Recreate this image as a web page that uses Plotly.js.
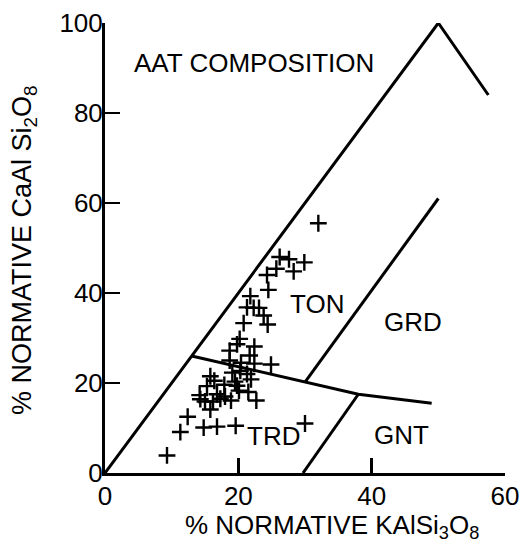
<!DOCTYPE html>
<html>
<head>
<meta charset="utf-8">
<script src="https://cdn.plot.ly/plotly-3.0.1.min.js"></script>
<style>html,body{margin:0;padding:0;background:#fff;}</style>
</head>
<body>
<div id="chart" style="width:523px;height:553px;"></div>
<script>
// Sample points: normative Or (KAlSi3O8) % vs normative An (CaAl2Si2O8) %
const orValues = [
  9.3, 11.3, 12.4, 14.8, 16.8, 19.6, 30.0, 15.8,
  14.3, 15.0, 16.2, 17.3, 18.9, 22.7, 14.2, 16.8, 18.0, 20.1, 21.5,
  15.3, 15.8, 16.4, 17.9, 19.8, 19.5, 21.9, 19.1, 20.3, 21.3,
  18.7, 20.4, 22.4, 24.9, 21.7, 18.7, 19.8, 22.4, 20.2,
  20.8, 24.4, 23.8, 21.3, 22.3, 23.1, 21.8, 24.5, 24.3, 25.7, 28.3, 26.2, 27.6, 29.9, 32.0
];
const anValues = [
  3.9, 9.1, 12.5, 10.1, 10.3, 10.5, 11.0, 14.1,
  16.4, 15.9, 15.9, 16.5, 16.1, 16.1, 17.3, 17.5, 17.0, 18.3, 18.0,
  19.3, 21.5, 20.5, 19.6, 19.4, 20.3, 20.8, 22.3, 22.7, 22.0,
  25.0, 24.5, 24.3, 24.1, 26.1, 27.2, 28.6, 28.1, 29.8,
  33.3, 33.0, 35.0, 36.8, 36.7, 36.7, 39.3, 40.7, 44.0, 45.4, 44.8, 48.0, 47.5, 46.8, 55.5
];

// Field boundaries
const aatX = [0, 50, 57.5];
const aatY = [0, 100, 84];
const tonTrdX = [13, 38, 49];
const tonTrdY = [26, 17.5, 15.5];
const grdTonX = [30, 50];
const grdTonY = [20.2, 61];
const gntTrdX = [29.7, 38];
const gntTrdY = [0, 17.5];

// Labels
const fieldNames = ["AAT COMPOSITION", "TON", "GRD", "TRD", "GNT"];
const fieldX = [4.05, 31.8, 46.2, 25.2, 44.5];
const fieldY = [91.1, 37.5, 33.6, 8.2, 8.55];
const fieldAnchor = ["left", "center", "center", "center", "center"];

const xTickVals = [0, 20, 40, 60];
const yTickVals = [0, 20, 40, 60, 80, 100];
const xTitle = "% NORMATIVE KAlSi<sub>3</sub>O<sub>8</sub>";
const yTitle = "% NORMATIVE CaAl Si<sub>2</sub>O<sub>8</sub>";

const FONT = "Liberation Sans, Arial, Helvetica, sans-serif";
const lineStyle = {color: "#000", width: 3};

const traces = [
  {x: aatX, y: aatY, mode: "lines", line: lineStyle, hoverinfo: "skip"},
  {x: tonTrdX, y: tonTrdY, mode: "lines", line: lineStyle, hoverinfo: "skip"},
  {x: grdTonX, y: grdTonY, mode: "lines", line: lineStyle, hoverinfo: "skip"},
  {x: gntTrdX, y: gntTrdY, mode: "lines", line: lineStyle, hoverinfo: "skip"},
  {x: orValues, y: anValues, mode: "markers",
   marker: {symbol: "cross-thin", size: 12, color: "#000", line: {color: "#000", width: 2.4}}}
];

const annotations = fieldNames.map((t, i) => ({
  text: t, x: fieldX[i], y: fieldY[i], xref: "x", yref: "y",
  xanchor: fieldAnchor[i], yanchor: "middle", showarrow: false,
  font: {family: FONT, size: 26, color: "#000"}
}));
annotations.push({
  text: xTitle, xref: "paper", yref: "paper", x: 0.5675, y: -0.118,
  xanchor: "center", yanchor: "middle", showarrow: false,
  font: {family: FONT, size: 26, color: "#000"}
});
annotations.push({
  text: yTitle, xref: "paper", yref: "paper", x: -0.2025, y: 0.4956,
  xanchor: "center", yanchor: "middle", showarrow: false, textangle: -90,
  font: {family: FONT, size: 27, color: "#000"}
});

const axisCommon = {
  showgrid: false, zeroline: false, showline: true, linecolor: "#000", linewidth: 3,
  ticks: "inside", ticklen: 15, tickwidth: 2.5, tickcolor: "#000",
  tickfont: {family: FONT, size: 26, color: "#000"}
};

const layout = {
  width: 523, height: 553,
  margin: {l: 105, r: 18, t: 23, b: 80, pad: 0},
  paper_bgcolor: "#fff", plot_bgcolor: "#fff",
  showlegend: false,
  xaxis: Object.assign({}, axisCommon, {range: [0, 60], tickvals: xTickVals, ticktext: xTickVals.map(String), ticklabelstandoff: -2}),
  yaxis: Object.assign({}, axisCommon, {range: [0, 100], tickvals: yTickVals, ticktext: yTickVals.map(String), ticklabelstandoff: -6}),
  annotations: annotations
};

Plotly.newPlot("chart", traces, layout, {displayModeBar: false, staticPlot: true});
</script>
</body>
</html>
